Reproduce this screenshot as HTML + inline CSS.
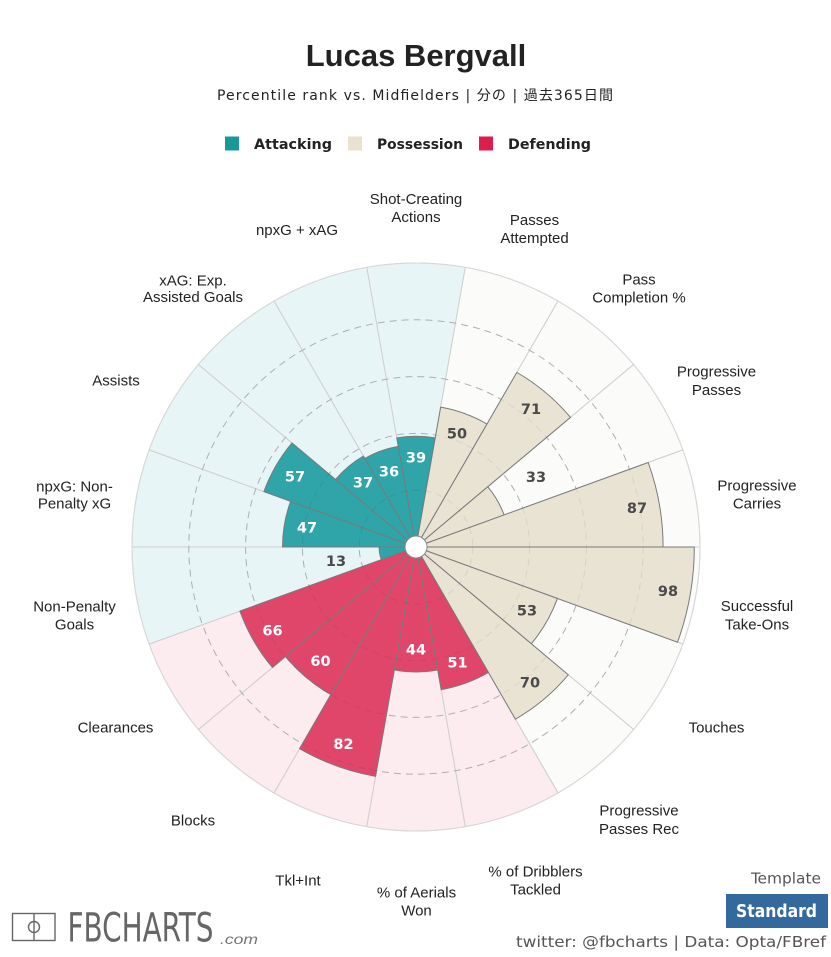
<!DOCTYPE html>
<html><head><meta charset="utf-8"><style>
html,body{margin:0;padding:0;background:#fff;}
svg{display:block;}
.lab{font-family:"Liberation Sans",Arial,sans-serif;font-size:15px;fill:#222;text-anchor:middle;}
.v{font-family:"DejaVu Sans","Liberation Sans",sans-serif;font-weight:bold;font-size:14.5px;text-anchor:middle;}
.w{fill:#fff;}
.d{fill:#4a4a4a;}
</style></head><body>
<svg width="831" height="957" viewBox="0 0 831 957" xmlns="http://www.w3.org/2000/svg">
<rect width="831" height="957" fill="#fff"/>
<!-- Title -->
<text x="416" y="66" text-anchor="middle" font-family="'Liberation Sans',Arial,sans-serif" font-weight="bold" font-size="31" fill="#222">Lucas Bergvall</text>
<text x="217" y="100" textLength="396" lengthAdjust="spacing" font-family="'DejaVu Sans','Noto Sans CJK JP',sans-serif" font-size="14" fill="#222">Percentile rank vs. Midfielders | 分の | 過去365日間</text>
<!-- Legend -->
<rect x="225" y="136.5" width="14" height="14" fill="#1a9898"/>
<text x="254" y="149" textLength="78" lengthAdjust="spacingAndGlyphs" font-family="'DejaVu Sans',sans-serif" font-weight="bold" font-size="14" fill="#222">Attacking</text>
<rect x="348" y="136.5" width="14" height="14" fill="#e8e2cf"/>
<text x="377" y="149" textLength="86" lengthAdjust="spacingAndGlyphs" font-family="'DejaVu Sans',sans-serif" font-weight="bold" font-size="14" fill="#222">Possession</text>
<rect x="479" y="136.5" width="14" height="14" fill="#dc1e4a"/>
<text x="508" y="149" textLength="83" lengthAdjust="spacingAndGlyphs" font-family="'DejaVu Sans',sans-serif" font-weight="bold" font-size="14" fill="#222">Defending</text>

<g transform="translate(416,547)">
<!-- background wedges -->
<g stroke="#cfcfcf" stroke-width="1">
<path transform="rotate(0)" fill="#e8f5f6" d="M0 0L-49.32 -279.69A284 284 0 0 1 49.32 -279.69Z"/>
<path transform="rotate(20)" fill="#fbfbf9" d="M0 0L-49.32 -279.69A284 284 0 0 1 49.32 -279.69Z"/>
<path transform="rotate(40)" fill="#fbfbf9" d="M0 0L-49.32 -279.69A284 284 0 0 1 49.32 -279.69Z"/>
<path transform="rotate(60)" fill="#fbfbf9" d="M0 0L-49.32 -279.69A284 284 0 0 1 49.32 -279.69Z"/>
<path transform="rotate(80)" fill="#fbfbf9" d="M0 0L-49.32 -279.69A284 284 0 0 1 49.32 -279.69Z"/>
<path transform="rotate(100)" fill="#fbfbf9" d="M0 0L-49.32 -279.69A284 284 0 0 1 49.32 -279.69Z"/>
<path transform="rotate(120)" fill="#fbfbf9" d="M0 0L-49.32 -279.69A284 284 0 0 1 49.32 -279.69Z"/>
<path transform="rotate(140)" fill="#fbfbf9" d="M0 0L-49.32 -279.69A284 284 0 0 1 49.32 -279.69Z"/>
<path transform="rotate(160)" fill="#fcebef" d="M0 0L-49.32 -279.69A284 284 0 0 1 49.32 -279.69Z"/>
<path transform="rotate(180)" fill="#fcebef" d="M0 0L-49.32 -279.69A284 284 0 0 1 49.32 -279.69Z"/>
<path transform="rotate(200)" fill="#fcebef" d="M0 0L-49.32 -279.69A284 284 0 0 1 49.32 -279.69Z"/>
<path transform="rotate(220)" fill="#fcebef" d="M0 0L-49.32 -279.69A284 284 0 0 1 49.32 -279.69Z"/>
<path transform="rotate(240)" fill="#fcebef" d="M0 0L-49.32 -279.69A284 284 0 0 1 49.32 -279.69Z"/>
<path transform="rotate(260)" fill="#e8f5f6" d="M0 0L-49.32 -279.69A284 284 0 0 1 49.32 -279.69Z"/>
<path transform="rotate(280)" fill="#e8f5f6" d="M0 0L-49.32 -279.69A284 284 0 0 1 49.32 -279.69Z"/>
<path transform="rotate(300)" fill="#e8f5f6" d="M0 0L-49.32 -279.69A284 284 0 0 1 49.32 -279.69Z"/>
<path transform="rotate(320)" fill="#e8f5f6" d="M0 0L-49.32 -279.69A284 284 0 0 1 49.32 -279.69Z"/>
<path transform="rotate(340)" fill="#e8f5f6" d="M0 0L-49.32 -279.69A284 284 0 0 1 49.32 -279.69Z"/>
</g>
<circle r="284" fill="none" stroke="#d8d8d8" stroke-width="1"/>
<!-- dashed grid -->
<g fill="none" stroke="#bdbdbd" stroke-width="1" stroke-dasharray="7 5">
<circle r="56.8"/><circle r="113.6"/><circle r="170.4"/><circle r="227.2"/>
</g>
<!-- bars -->
<g stroke="#7a7a7a" stroke-width="1">
<path transform="rotate(0)" fill="#2fa4a9" d="M0 0L-19.23 -109.08A110.76 110.76 0 0 1 19.23 -109.08Z"/>
<path transform="rotate(20)" fill="#e8e3d3" d="M0 0L-24.66 -139.84A142 142 0 0 1 24.66 -139.84Z"/>
<path transform="rotate(40)" fill="#e8e3d3" d="M0 0L-35.01 -198.58A201.64 201.64 0 0 1 35.01 -198.58Z"/>
<path transform="rotate(60)" fill="#e8e3d3" d="M0 0L-16.27 -92.30A93.72 93.72 0 0 1 16.27 -92.30Z"/>
<path transform="rotate(80)" fill="#e8e3d3" d="M0 0L-42.90 -243.33A247.08 247.08 0 0 1 42.90 -243.33Z"/>
<path transform="rotate(100)" fill="#e8e3d3" d="M0 0L-48.33 -274.09A278.32 278.32 0 0 1 48.33 -274.09Z"/>
<path transform="rotate(120)" fill="#e8e3d3" d="M0 0L-26.14 -148.23A150.52 150.52 0 0 1 26.14 -148.23Z"/>
<path transform="rotate(140)" fill="#e8e3d3" d="M0 0L-34.52 -195.78A198.8 198.8 0 0 1 34.52 -195.78Z"/>
<path transform="rotate(160)" fill="#e0466a" d="M0 0L-25.15 -142.64A144.84 144.84 0 0 1 25.15 -142.64Z"/>
<path transform="rotate(180)" fill="#e0466a" d="M0 0L-21.70 -123.06A124.96 124.96 0 0 1 21.70 -123.06Z"/>
<path transform="rotate(200)" fill="#e0466a" d="M0 0L-40.44 -229.34A232.88 232.88 0 0 1 40.44 -229.34Z"/>
<path transform="rotate(220)" fill="#e0466a" d="M0 0L-29.59 -167.81A170.4 170.4 0 0 1 29.59 -167.81Z"/>
<path transform="rotate(240)" fill="#e0466a" d="M0 0L-32.55 -184.59A187.44 187.44 0 0 1 32.55 -184.59Z"/>
<path transform="rotate(260)" fill="#2fa4a9" d="M0 0L-6.41 -36.36A36.92 36.92 0 0 1 6.41 -36.36Z"/>
<path transform="rotate(280)" fill="#2fa4a9" d="M0 0L-23.18 -131.45A133.48 133.48 0 0 1 23.18 -131.45Z"/>
<path transform="rotate(300)" fill="#2fa4a9" d="M0 0L-28.11 -159.42A161.88 161.88 0 0 1 28.11 -159.42Z"/>
<path transform="rotate(320)" fill="#2fa4a9" d="M0 0L-18.25 -103.48A105.08 105.08 0 0 1 18.25 -103.48Z"/>
<path transform="rotate(340)" fill="#2fa4a9" d="M0 0L-17.75 -100.69A102.24 102.24 0 0 1 17.75 -100.69Z"/>
</g>
<!-- faint grid overlay -->
<g fill="none" stroke="#000" stroke-opacity="0.07" stroke-width="1" stroke-dasharray="7 5">
<circle r="56.8"/><circle r="113.6"/><circle r="170.4"/><circle r="227.2"/>
</g>
<circle r="11" fill="#fff" stroke="#888" stroke-width="1"/>
</g>

<!-- value labels -->
<text class="v w" x="416" y="462.5">39</text>
<text class="v w" x="389" y="476.5">36</text>
<text class="v w" x="363" y="487.5">37</text>
<text class="v w" x="295" y="481.5">57</text>
<text class="v w" x="307" y="532.5">47</text>
<text class="v d" x="336" y="566">13</text>
<text class="v d" x="457" y="438.5">50</text>
<text class="v d" x="531" y="414">71</text>
<text class="v d" x="536" y="482">33</text>
<text class="v d" x="637" y="513">87</text>
<text class="v d" x="668" y="596">98</text>
<text class="v d" x="527" y="615.5">53</text>
<text class="v d" x="530" y="687.5">70</text>
<text class="v w" x="457.5" y="667.5">51</text>
<text class="v w" x="416" y="654.5">44</text>
<text class="v w" x="343.5" y="749">82</text>
<text class="v w" x="320.5" y="666">60</text>
<text class="v w" x="272.5" y="635.5">66</text>

<!-- category labels -->
<text class="lab" x="416" y="203.8">Shot-Creating<tspan x="416" y="222.2">Actions</tspan></text>
<text class="lab" x="534.5" y="224.8">Passes<tspan x="534.5" y="243.2">Attempted</tspan></text>
<text class="lab" x="639" y="284.5">Pass<tspan x="639" y="302.5">Completion %</tspan></text>
<text class="lab" x="716.5" y="376.5">Progressive<tspan x="716.5" y="395">Passes</tspan></text>
<text class="lab" x="757" y="490.5">Progressive<tspan x="757" y="508.5">Carries</tspan></text>
<text class="lab" x="757" y="611">Successful<tspan x="757" y="629.5">Take-Ons</tspan></text>
<text class="lab" x="716.5" y="732.5">Touches</text>
<text class="lab" x="639" y="815.5">Progressive<tspan x="639" y="834">Passes Rec</tspan></text>
<text class="lab" x="535.5" y="876.5">% of Dribblers<tspan x="535.5" y="894.5">Tackled</tspan></text>
<text class="lab" x="416.5" y="897.5">% of Aerials<tspan x="416.5" y="915.5">Won</tspan></text>
<text class="lab" x="298" y="885.5">Tkl+Int</text>
<text class="lab" x="193" y="825.5">Blocks</text>
<text class="lab" x="115.5" y="732.5">Clearances</text>
<text class="lab" x="74.5" y="611.5">Non-Penalty<tspan x="74.5" y="629.5">Goals</tspan></text>
<text class="lab" x="74.5" y="491.5">npxG: Non-<tspan x="74.5" y="508.5">Penalty xG</tspan></text>
<text class="lab" x="116" y="385.5">Assists</text>
<text class="lab" x="193" y="285.5">xAG: Exp.<tspan x="193" y="302.2">Assisted Goals</tspan></text>
<text class="lab" x="297" y="234.8">npxG + xAG</text>

<!-- footer -->
<g stroke="#666" stroke-width="1.4" fill="none">
<rect x="12.5" y="913.5" width="42.5" height="27"/>
<line x1="34" y1="913.5" x2="34" y2="940.5"/>
<circle cx="34" cy="927" r="5.5"/>
</g>
<text x="67.5" y="941.5" textLength="146" lengthAdjust="spacingAndGlyphs" font-family="'Liberation Sans Narrow','DejaVu Sans Condensed','Liberation Sans',sans-serif" font-size="40" fill="#666">FBCHARTS</text>
<text x="220" y="944" textLength="38" lengthAdjust="spacingAndGlyphs" font-family="'Liberation Sans',sans-serif" font-style="italic" font-size="14" fill="#777">.com</text>

<text x="751" y="883.5" textLength="70" lengthAdjust="spacingAndGlyphs" font-family="'DejaVu Sans Condensed','DejaVu Sans',sans-serif" font-size="15" fill="#555">Template</text>
<rect x="726" y="894" width="102" height="34" fill="#34699e"/>
<text x="736" y="917" textLength="81" lengthAdjust="spacingAndGlyphs" font-family="'DejaVu Sans Condensed','DejaVu Sans',sans-serif" font-weight="bold" font-size="18" fill="#fff">Standard</text>
<text x="516" y="947" textLength="310" lengthAdjust="spacingAndGlyphs" font-family="'DejaVu Sans Condensed','DejaVu Sans',sans-serif" font-size="15" fill="#555">twitter: @fbcharts | Data: Opta/FBref</text>
</svg>
</body></html>
